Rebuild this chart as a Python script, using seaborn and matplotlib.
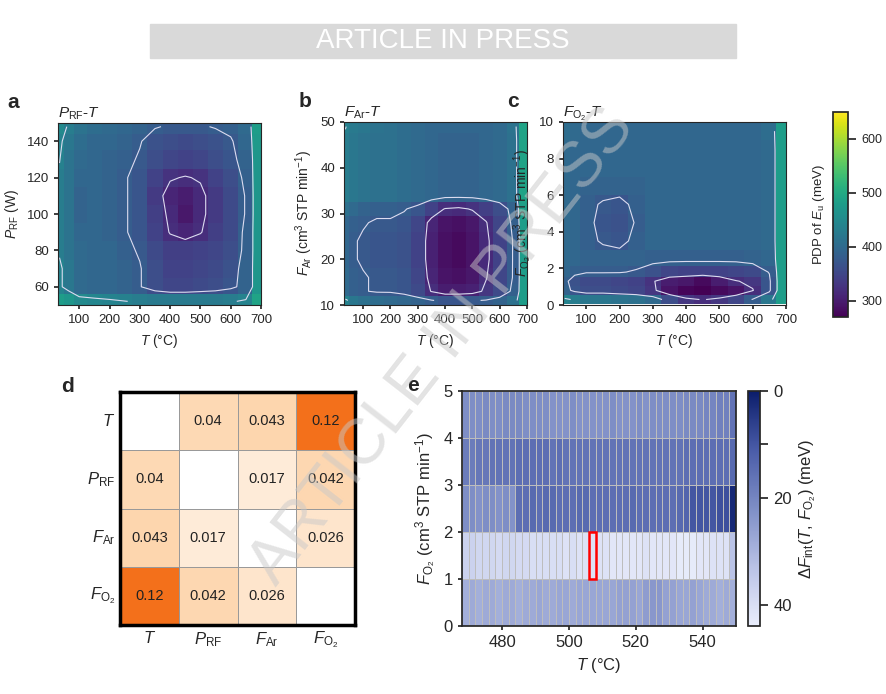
import numpy as np
import matplotlib
matplotlib.use("Agg")
import matplotlib.pyplot as plt
import seaborn as sns
import pandas as pd
from matplotlib.colors import LinearSegmentedColormap

sns.set_theme(style="white")
plt.rcParams["font.family"] = ["Liberation Sans", "DejaVu Sans"]
plt.rcParams["mathtext.fontset"] = "custom"
plt.rcParams["mathtext.it"] = "Liberation Sans:italic"
plt.rcParams["mathtext.rm"] = "Liberation Sans"

# ---------------- donnees PDP (grilles grossieres) ----------------
T_a = [35, 65, 100, 150, 200, 250, 300, 350, 400, 450, 500, 550, 600, 650, 690]
P_a = [52, 60, 70, 80, 90, 100, 110, 120, 130, 140, 148]
pdp_a = [
    [480, 470, 450, 445, 440, 435, 430, 425, 425, 425, 425, 425, 430, 440, 490],
    [440, 420, 400, 395, 395, 390, 380, 360, 350, 350, 355, 360, 370, 390, 470],
    [440, 420, 400, 395, 395, 390, 380, 360, 345, 345, 350, 355, 365, 390, 470],
    [430, 415, 400, 395, 395, 385, 375, 355, 340, 340, 345, 350, 360, 385, 470],
    [430, 415, 395, 395, 390, 380, 370, 345, 320, 310, 320, 340, 355, 385, 470],
    [430, 415, 390, 395, 390, 380, 370, 340, 315, 295, 315, 335, 355, 380, 470],
    [430, 415, 390, 395, 390, 380, 370, 335, 310, 300, 315, 335, 355, 380, 470],
    [430, 415, 395, 395, 390, 380, 370, 345, 325, 320, 325, 345, 360, 385, 470],
    [435, 415, 400, 395, 390, 385, 375, 360, 350, 345, 350, 360, 370, 390, 470],
    [440, 420, 405, 395, 395, 390, 380, 365, 360, 355, 360, 365, 375, 395, 475],
    [450, 430, 415, 405, 400, 395, 390, 380, 375, 375, 375, 380, 385, 400, 480],
]
T_b = T_a
Ar_b = [11, 13, 16, 20, 24, 28, 31, 34, 38, 42, 46, 49]
pdp_b = [
    [440, 420, 410, 405, 400, 395, 390, 380, 370, 370, 375, 380, 390, 410, 480],
    [400, 385, 380, 375, 375, 370, 355, 320, 300, 300, 305, 330, 355, 385, 480],
    [400, 385, 380, 375, 375, 370, 350, 310, 290, 285, 295, 320, 350, 380, 480],
    [395, 380, 375, 370, 370, 365, 345, 305, 285, 280, 290, 315, 345, 380, 480],
    [395, 380, 375, 370, 370, 365, 345, 305, 285, 280, 290, 315, 345, 380, 480],
    [395, 385, 380, 375, 375, 370, 350, 310, 290, 285, 295, 320, 350, 385, 480],
    [410, 400, 390, 385, 385, 380, 370, 345, 320, 315, 325, 340, 360, 390, 485],
    [430, 420, 415, 410, 410, 405, 400, 395, 390, 390, 390, 395, 400, 410, 490],
    [430, 420, 415, 410, 410, 405, 400, 395, 390, 390, 390, 395, 400, 410, 490],
    [430, 420, 415, 410, 410, 405, 400, 395, 390, 390, 390, 395, 400, 410, 490],
    [430, 420, 415, 410, 410, 405, 400, 395, 390, 390, 390, 395, 400, 410, 490],
    [435, 425, 420, 415, 410, 405, 400, 395, 395, 395, 395, 395, 400, 415, 490],
]
T_c = T_a
O2_c = [0.3, 0.8, 1.3, 1.8, 2.5, 3.5, 4.5, 5.5, 6.5, 7.5, 8.5, 9.5]
pdp_c = [
    [440, 430, 420, 420, 415, 410, 400, 360, 330, 320, 330, 350, 380, 420, 480],
    [390, 370, 360, 360, 355, 350, 330, 290, 275, 270, 280, 290, 320, 370, 480],
    [385, 365, 355, 355, 350, 345, 325, 300, 295, 280, 300, 320, 330, 370, 480],
    [395, 385, 380, 380, 380, 375, 365, 350, 345, 345, 345, 350, 355, 380, 480],
    [400, 395, 390, 390, 390, 390, 385, 385, 385, 385, 385, 385, 390, 395, 480],
    [400, 395, 385, 375, 370, 385, 395, 395, 395, 395, 395, 395, 395, 400, 480],
    [400, 395, 385, 370, 365, 380, 395, 395, 395, 395, 395, 395, 395, 400, 480],
    [400, 395, 385, 375, 370, 385, 395, 395, 395, 395, 395, 395, 395, 400, 480],
    [400, 395, 390, 390, 390, 390, 395, 395, 395, 395, 395, 395, 395, 400, 480],
    [400, 395, 395, 395, 395, 395, 395, 395, 395, 395, 395, 395, 395, 400, 480],
    [400, 395, 395, 395, 395, 395, 395, 395, 395, 395, 395, 395, 395, 400, 480],
    [405, 400, 395, 395, 395, 395, 395, 395, 395, 395, 395, 395, 395, 405, 480],
]
niveaux = [322, 378, 434]

# ---------------- donnees interactions (panneau d) ----------------
variables = [r"$T$", r"$P_\mathrm{RF}$", r"$F_\mathrm{Ar}$", r"$F_\mathrm{O_2}$"]
interactions = [
    [np.nan, 0.04, 0.043, 0.12],
    [0.04, np.nan, 0.017, 0.042],
    [0.043, 0.017, np.nan, 0.026],
    [0.12, 0.042, 0.026, np.nan],
]

# ---------------- donnees panneau e ----------------
T_e_bords = np.arange(468, 551, 2)        # 42 bords -> 41 colonnes
O2_e_bords = [0, 1, 2, 3, 4, 5]
dF_ligne0 = [29, 28, 29, 28, 28, 29, 28, 28, 29, 28, 28, 27, 28, 28, 27, 27, 28, 27, 27, 27,
             27, 27, 27, 26, 26, 26, 27, 25, 24, 24, 26, 26, 27, 27, 26, 27, 28, 28, 29, 28, 29]
dF_ligne1 = [37, 37, 38, 38, 38, 39, 38, 38, 39, 39, 40, 40, 40, 40, 40, 41, 40, 41, 41, 41,
             41, 41, 42, 42, 42, 42, 42, 41, 42, 42, 42, 42, 43, 43, 43, 42, 42, 41, 41, 41, 33]
dF_ligne2 = [22, 22, 23, 22, 22, 23, 22, 23, 15, 15, 14, 15, 14, 14, 15, 15, 15, 14, 14, 15,
             15, 15, 15, 15, 15, 14, 15, 15, 15, 15, 15, 15, 14, 13, 10, 10, 10, 10, 9, 9, 2]
dF_ligne3 = [18, 18, 17, 17, 16, 16, 16, 16, 15, 15, 15, 15, 15, 16, 15, 16, 16, 16, 16, 16,
             16, 16, 16, 16, 16, 16, 16, 16, 16, 16, 16, 16, 16, 15, 15, 15, 15, 15, 15, 15, 14]
dF_ligne4 = [22, 22, 22, 21, 22, 22, 21, 21, 21, 22, 22, 22, 22, 23, 23, 23, 22, 23, 23, 23,
             23, 23, 22, 23, 23, 23, 22, 23, 22, 22, 22, 22, 22, 21, 21, 21, 20, 20, 19, 19, 16]
cellule_min = (506, 1)

# =============================================================
W, H = 886, 694
fig = plt.figure(figsize=(W / 100, H / 100), dpi=100)


def ax_px(x0, y0, x1, y1):
    return fig.add_axes([x0 / W, 1 - y1 / H, (x1 - x0) / W, (y1 - y0) / H])


# bandeau
fig.patches.append(plt.Rectangle((150 / W, 1 - 58 / H), 586 / W, 34 / H, transform=fig.transFigure,
                                 color="#d9d9d9", zorder=0))
fig.text(443 / W, 1 - 41 / H, "ARTICLE IN PRESS", ha="center", va="center", color="white", fontsize=20)

def panneau_pdp(ax, xs, ys, z, ylabel, yticks, titre, lettre):
    z = np.array(z, dtype=float)
    m = ax.pcolormesh(xs, ys, z, cmap="viridis", vmin=270, vmax=650, shading="nearest")
    ax.contour(xs, ys, z, levels=niveaux, colors="#dcdcf0", linewidths=0.8)
    ax.set_xticks([100, 200, 300, 400, 500, 600, 700])
    ax.set_yticks(yticks)
    ax.set_xlabel(r"$T$ (°C)", fontsize=10)
    ax.set_ylabel(ylabel, fontsize=10)
    ax.tick_params(labelsize=9.5, length=3, direction="out", left=True, bottom=True)
    ax.text(0.0, 1.03, titre, transform=ax.transAxes, fontsize=11)
    ax.text(-0.25, 1.08, lettre, transform=ax.transAxes, fontsize=15, fontweight="bold")
    for s in ax.spines.values():
        s.set_linewidth(0.8)
    return m

ax_a = ax_px(58, 123, 261, 305)
m = panneau_pdp(ax_a, T_a, P_a, pdp_a, r"$P_\mathrm{RF}$ (W)", [60, 80, 100, 120, 140], r"$P_\mathrm{RF}$-$T$", "a")
ax_a.set_xlim(30, 700); ax_a.set_ylim(50, 150)
ax_b = ax_px(344, 122, 527, 305)
panneau_pdp(ax_b, T_b, Ar_b, pdp_b, r"$F_\mathrm{Ar}$ (cm$^3$ STP min$^{-1}$)", [10, 20, 30, 40, 50], r"$F_\mathrm{Ar}$-$T$", "b")
ax_b.set_xlim(30, 700); ax_b.set_ylim(10, 50)
ax_c = ax_px(563, 122, 786, 305)
panneau_pdp(ax_c, T_c, O2_c, pdp_c, r"$F_\mathrm{O_2}$ (cm$^3$ STP min$^{-1}$)", [0, 2, 4, 6, 8, 10], r"$F_\mathrm{O_2}$-$T$", "c")
ax_c.set_xlim(30, 700); ax_c.set_ylim(0, 10)

cax = ax_px(833, 112, 848, 317)
cb = fig.colorbar(m, cax=cax)
cb.set_ticks([300, 400, 500, 600])
cb.ax.tick_params(labelsize=9)
cb.ax.yaxis.set_label_position("left")
cb.set_label(r"PDP of $E_\mathrm{u}$ (meV)", fontsize=9.5, labelpad=4)

# ---------------- panneau d ----------------
ax_d = ax_px(120, 392, 355, 625)
df_int = pd.DataFrame(interactions, index=variables, columns=variables)
sns.heatmap(df_int, ax=ax_d, cmap="Oranges", vmin=0, vmax=0.2, annot=True, fmt="g",
            annot_kws={"fontsize": 10.5, "color": "#222222"}, cbar=False,
            linewidths=0.5, linecolor="#999999", square=False)
ax_d.tick_params(labelsize=12, length=0)
ax_d.set_yticklabels(variables, rotation=0)
for s in ax_d.spines.values():
    s.set_visible(True); s.set_linewidth(2.5); s.set_color("black")
ax_d.text(-0.25, 1.0, "d", transform=ax_d.transAxes, fontsize=15, fontweight="bold")

# ---------------- panneau e ----------------
ax_e = ax_px(462, 391, 736, 626)
dF = np.array([dF_ligne0, dF_ligne1, dF_ligne2, dF_ligne3, dF_ligne4], dtype=float)
cmap_e = LinearSegmentedColormap.from_list("bleus", ["#0b1d6b", "#4a5ca8", "#7e8ec6", "#b9c2e6", "#eaeefc"])
me = ax_e.pcolormesh(T_e_bords, O2_e_bords, dF, cmap=cmap_e, vmin=0, vmax=44,
                     edgecolors="#bdbdbd", linewidth=0.4)
ax_e.add_patch(plt.Rectangle(cellule_min, 2, 1, fill=False, edgecolor="red", linewidth=1.8))
ax_e.set_xlim(468, 550); ax_e.set_ylim(0, 5)
ax_e.set_xticks([480, 500, 520, 540])
ax_e.set_yticks([0, 1, 2, 3, 4, 5])
ax_e.set_xlabel(r"$T$ (°C)", fontsize=12)
ax_e.set_ylabel(r"$F_\mathrm{O_2}$ (cm$^3$ STP min$^{-1}$)", fontsize=12)
ax_e.tick_params(labelsize=12, length=3, left=True, bottom=True)
ax_e.text(-0.2, 1.0, "e", transform=ax_e.transAxes, fontsize=15, fontweight="bold")
cax_e = ax_px(748, 391, 760, 626)
cbe = fig.colorbar(me, cax=cax_e)
cbe.ax.invert_yaxis()
cbe.set_ticks([0, 10, 20, 40])
cbe.set_ticklabels(["0", "", "20", "40"])
cbe.ax.tick_params(labelsize=12)
cbe.set_label(r"$\Delta F_\mathrm{int}(T,\, F_\mathrm{O_2})$ (meV)", fontsize=12)

# filigrane
fig.text(0.5, 0.5, "ARTICLE IN PRESS", ha="center", va="center", rotation=52,
         fontsize=46, color="#c8c8c8", alpha=0.5)

fig.savefig("out.png", dpi=100)
